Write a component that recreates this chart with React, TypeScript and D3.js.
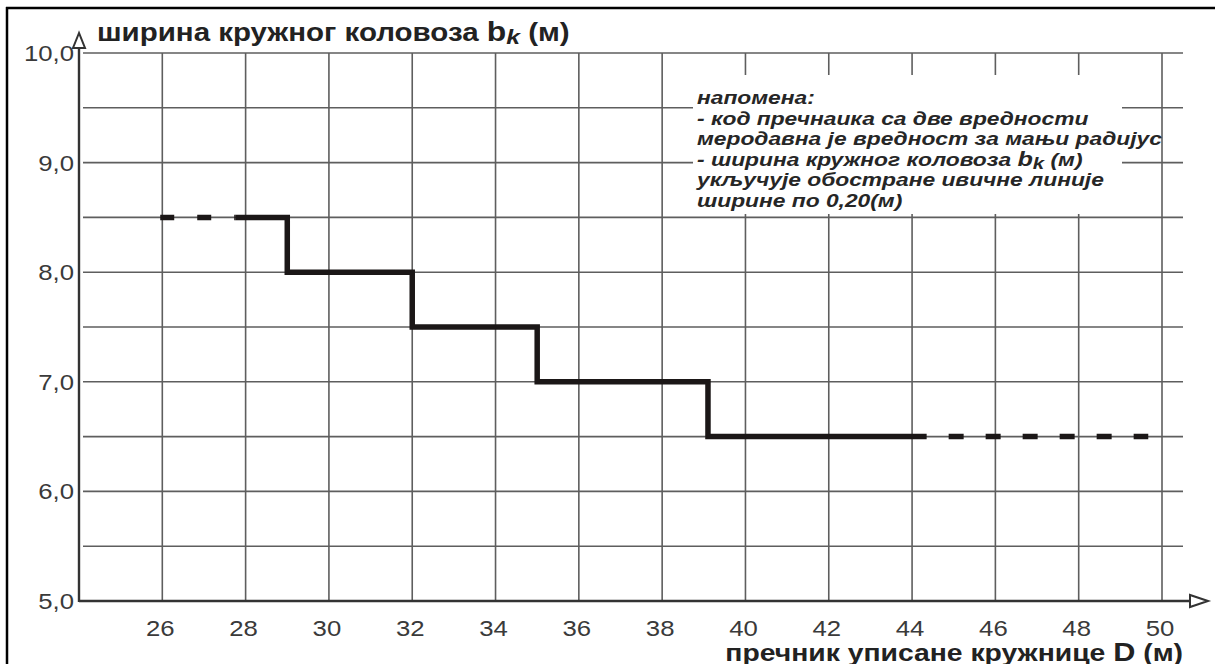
import React from "react";
import * as d3 from "d3";

// x: пречник D (м), y: ширина b_k (м)
const xTicks = [26, 28, 30, 32, 34, 36, 38, 40, 42, 44, 46, 48, 50];
const yTicks = [5, 6, 7, 8, 9, 10];
const yGrid = [5.5, 6, 6.5, 7, 7.5, 8, 8.5, 9, 9.5, 10];

// step curve: width drops at these diameters
const stepD = [27.75, 29, 32, 35, 39.1, 44.35];
const stepB = [8.5, 8.0, 7.5, 7.0, 6.5, 6.5];
const dashStart = [25.95, 27.75];
const dashEnd = [44.35, 49.67];

const noteLines = [
  "напомена:",
  "- код пречнаика са две вредности",
  "меродавна је вредност за мањи радијус",
  "- ширина кружног коловоза ",
  "укључује обостране ивичне линије",
  "ширине по 0,20(м)",
];

const W = 1215;
const H = 664;
const SX = 1.18; // source picture is stretched horizontally

export default function App() {
  const x = d3.scaleLinear().domain([24, 50]).range([79, 1162]);
  const y = d3.scaleLinear().domain([5, 10]).range([601, 53]);

  const pts: [number, number][] = stepD.map((d, i) => [d, stepB[i]]);
  const stepLine = d3
    .line<[number, number]>()
    .x((d) => x(d[0]))
    .y((d) => y(d[1]))
    .curve(d3.curveStepAfter);

  const font = "'Liberation Sans', Arial, sans-serif";
  const fmt = (v: number) => v.toFixed(1).replace(".", ",");
  const at = (tx: number, ty: number, sx = SX) => `translate(${tx},${ty}) scale(${sx},1)`;

  return (
    <svg
      width={W}
      height={H}
      style={{ position: "absolute", left: 0, top: 0, background: "#fff" }}
      fontFamily={font}
    >
      {/* frame */}
      <line x1={7} x2={7} y1={7} y2={H} stroke="#000" strokeWidth={2.5} />
      <line x1={6} x2={W} y1={8} y2={8} stroke="#000" strokeWidth={2.5} />

      {/* grid */}
      {yGrid.map((v) => (
        <line key={"h" + v} x1={83} x2={1183} y1={y(v)} y2={y(v)} stroke="#5e5e5e" strokeWidth={1.6} />
      ))}
      {xTicks.map((v) => (
        <line key={"v" + v} x1={x(v)} x2={x(v)} y1={y(10)} y2={y(5)} stroke="#5e5e5e" strokeWidth={1.6} />
      ))}

      {/* note box */}
      <rect x={693} y={75} width={429} height={139} fill="#fff" />

      {/* axes */}
      <line x1={x(24)} x2={x(24)} y1={y(5) + 1} y2={48} stroke="#333" strokeWidth={2.4} />
      <path
        d={`M${x(24)},33 L${x(24) - 6},48 L${x(24) + 6},48 Z`}
        fill="#fff"
        stroke="#333"
        strokeWidth={2}
      />
      <line x1={x(24)} x2={1190} y1={y(5)} y2={y(5)} stroke="#333" strokeWidth={2.4} />
      <path
        d={`M1208,${y(5)} L1190,${y(5) - 6} L1190,${y(5) + 6} Z`}
        fill="#fff"
        stroke="#333"
        strokeWidth={2}
      />

      {/* y tick labels */}
      {yTicks.map((v) => (
        <text key={"yl" + v} transform={at(74, y(v) + 8, 1.12)} fontSize={23} fill="#3a3a3a" textAnchor="end">
          {fmt(v)}
        </text>
      ))}
      {/* x tick labels */}
      {xTicks.map((v) => (
        <text key={"xl" + v} transform={at(x(v) - 2, 636, 1.12)} fontSize={23} fill="#3a3a3a" textAnchor="middle">
          {v}
        </text>
      ))}

      {/* titles */}
      <text transform={at(97, 41)} fontSize={25} fontWeight="bold" fill="#222">
        ширина кружног коловоза{" "}
        <tspan fontSize={27}>b</tspan>
        <tspan fontSize={21} fontStyle="italic" dy={3}>k</tspan>
        <tspan dy={-3}> (м)</tspan>
      </text>
      <text transform={at(1183, 661)} fontSize={24} fontWeight="bold" fill="#222" textAnchor="end">
        пречник уписане кружнице <tspan fontSize={26}>D</tspan> (м)
      </text>

      {/* step line */}
      <path d={stepLine(pts) ?? ""} fill="none" stroke="#1b1717" strokeWidth={5.5} strokeLinejoin="miter" />
      <line
        x1={x(dashStart[0])}
        x2={x(dashStart[1])}
        y1={y(8.5)}
        y2={y(8.5)}
        stroke="#1b1717"
        strokeWidth={5.5}
        strokeDasharray="14 23"
      />
      <line
        x1={x(dashEnd[0])}
        x2={x(dashEnd[1])}
        y1={y(6.5)}
        y2={y(6.5)}
        stroke="#1b1717"
        strokeWidth={5.5}
        strokeDasharray="15 22"
        strokeDashoffset={15}
      />

      {/* note */}
      <g fontSize={19} fontWeight="bold" fontStyle="italic" fill="#262626">
        {noteLines.map((t, i) => (
          <text key={i} transform={at(697, 104 + i * 20.6, 1.2)}>
            {t}
            {i === 3 ? (
              <>
                <tspan fontSize={21}>b</tspan>
                <tspan fontSize={17} dy={3}>k</tspan>
                <tspan dy={-3}> (м)</tspan>
              </>
            ) : null}
          </text>
        ))}
      </g>
    </svg>
  );
}
